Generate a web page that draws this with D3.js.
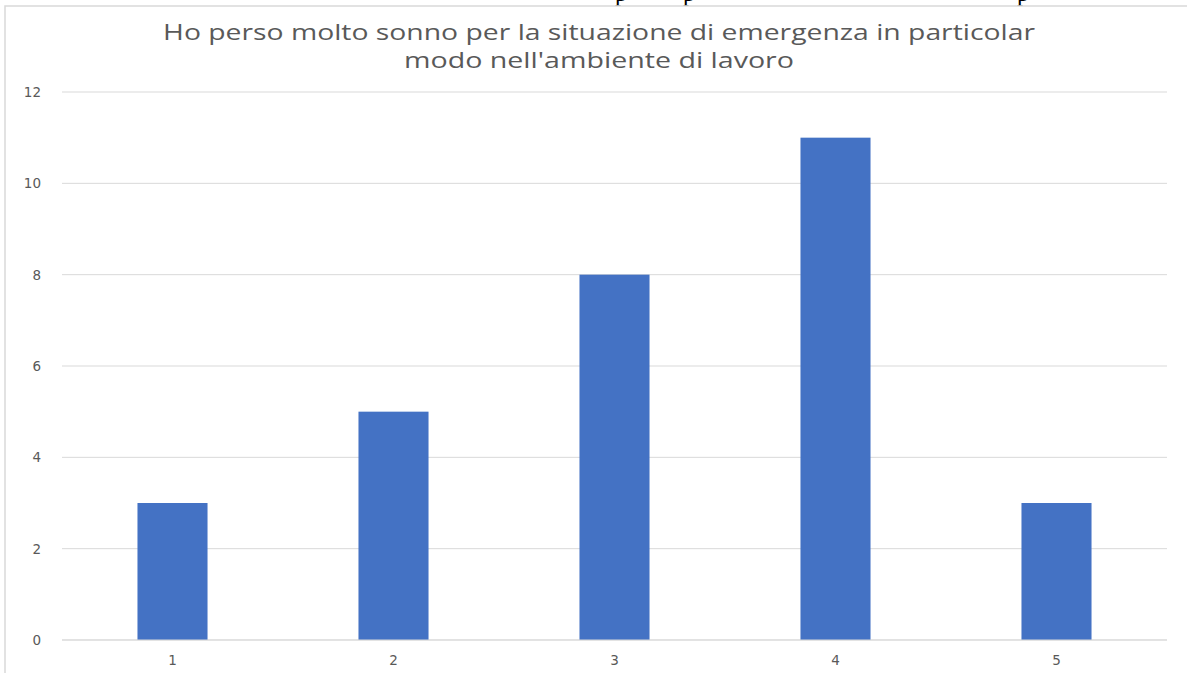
<!DOCTYPE html>
<html>
<head>
<meta charset="utf-8">
<script src="https://cdn.jsdelivr.net/npm/d3@7"></script>
<style>
  html, body { margin: 0; padding: 0; background: #fff; }
  svg { display: block; }
</style>
</head>
<body>
<svg id="chart" width="1187" height="673"></svg>
<script>
const categories = ["1", "2", "3", "4", "5"];
const values = [3, 5, 8, 11, 3];
const yTicks = [0, 2, 4, 6, 8, 10, 12];
const titleLines = ["Ho perso molto sonno per la situazione di emergenza in particolar", "modo nell'ambiente di lavoro"];
const strayGlyphs = [{ ch: "p", at: 620 }, { ch: "p", at: 688 }, { ch: "p", at: 1022 }];

const svg = d3.select("#chart");
const W = 1187, H = 673;
const margin = { left: 62, right: 20, top: 92, bottom: 33 };

svg.append("rect").attr("width", W).attr("height", H).attr("fill", "#fff");

// chart frame
svg.append("rect")
  .attr("x", 5).attr("y", 6)
  .attr("width", W + 20).attr("height", H + 20)
  .attr("fill", "#fff")
  .attr("stroke", "#d9d9d9").attr("stroke-width", 1.5);

// stray document text above the chart frame (only descenders visible)
const clip = svg.append("defs").append("clipPath").attr("id", "topclip");
clip.append("rect").attr("x", 0).attr("y", 0).attr("width", W).attr("height", 5.3);
svg.append("g").attr("clip-path", "url(#topclip)")
  .selectAll("text").data(strayGlyphs).join("text")
  .attr("x", d => d.at - 5)
  .attr("y", 0.5)
  .attr("font-family", "Liberation Serif, Times New Roman, serif")
  .attr("font-size", 24)
  .attr("fill", "#000")
  .text(d => d.ch);

const x = d3.scaleBand()
  .domain(categories)
  .range([margin.left, 1167])
  .paddingInner(0.683)
  .paddingOuter(0.3415);

const y = d3.scaleLinear()
  .domain([0, 12])
  .range([640, 92]);

// gridlines
svg.append("g").selectAll("line").data(yTicks).join("line")
  .attr("x1", margin.left).attr("x2", 1167)
  .attr("y1", d => y(d)).attr("y2", d => y(d))
  .attr("stroke", "#d9d9d9").attr("stroke-width", 1);

// y labels
svg.append("g").selectAll("text").data(yTicks).join("text")
  .attr("x", 41).attr("y", d => y(d) + 5)
  .attr("text-anchor", "end")
  .attr("font-family", "DejaVu Sans, Verdana, sans-serif")
  .attr("font-size", 13.5)
  .attr("fill", "#595959")
  .text(d => d);

// bars
svg.append("g").selectAll("rect").data(values).join("rect")
  .attr("x", (d, i) => x(categories[i]))
  .attr("width", x.bandwidth())
  .attr("y", d => y(d))
  .attr("height", d => y(0) - y(d))
  .attr("fill", "#4472c4");

// baseline
svg.append("line")
  .attr("x1", margin.left).attr("x2", 1167)
  .attr("y1", y(0)).attr("y2", y(0))
  .attr("stroke", "#d9d9d9").attr("stroke-width", 1);

// x labels
svg.append("g").selectAll("text").data(categories).join("text")
  .attr("x", d => x(d) + x.bandwidth() / 2)
  .attr("y", 665)
  .attr("text-anchor", "middle")
  .attr("font-family", "DejaVu Sans, Verdana, sans-serif")
  .attr("font-size", 13.5)
  .attr("fill", "#595959")
  .text(d => d);

// title
const titleY = [40, 68];
const titleWidths = [872, 390];
svg.append("g").selectAll("text").data(titleLines).join("text")
  .attr("x", 599)
  .attr("y", (d, i) => titleY[i])
  .attr("text-anchor", "middle")
  .attr("font-family", "Open Sans, Noto Sans, sans-serif")
  .attr("font-size", 21)
  .attr("fill", "#595959")
  .attr("textLength", (d, i) => titleWidths[i])
  .attr("lengthAdjust", "spacingAndGlyphs")
  .text(d => d);
</script>
</body>
</html>
